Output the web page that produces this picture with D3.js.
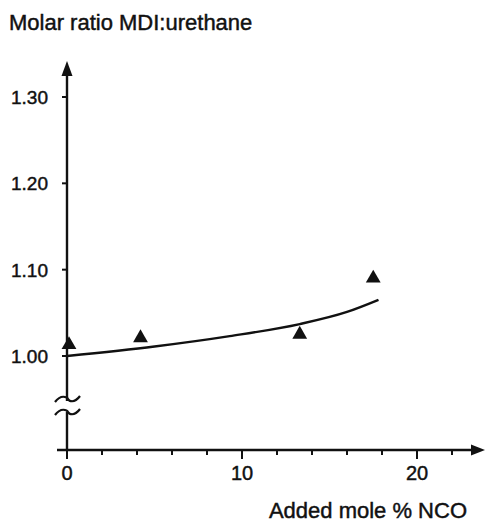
<!DOCTYPE html>
<html>
<head>
<meta charset="utf-8">
<script src="https://cdn.jsdelivr.net/npm/d3@7/dist/d3.min.js"></script>
<style>
  html, body { margin: 0; padding: 0; background: #fff; }
  svg { display: block; }
  text { font-family: "Liberation Sans", Arial, Helvetica, sans-serif; fill: #111; stroke: #111; stroke-width: 0.45px; }
</style>
</head>
<body>
<svg id="chart" width="485" height="522"></svg>
<script>
// Measured points: added mole % NCO vs. molar ratio MDI:urethane
const pointX = [0, 4.2, 13.3, 17.5];
const pointY = [1.013, 1.021, 1.025, 1.090];

// Fitted trend curve
const curveX = [0, 5, 9.3, 13.3, 16, 17.8];
const curveY = [1.000, 1.011, 1.023, 1.037, 1.051, 1.065];

const xMajorTicks = [0, 10, 20];
const xMinorTicks = [2, 4, 6, 8, 12, 14, 16, 18, 22];
const yTicks = [1.00, 1.10, 1.20, 1.30];

const yTitle = "Molar ratio MDI:urethane";
const xTitle = "Added mole % NCO";

const svg = d3.select("#chart");
const ink = "#111";

const x = d3.scaleLinear().domain([0, 20]).range([67, 417]);
const y = d3.scaleLinear().domain([1.00, 1.30]).range([356, 97]);
const baseY = 450;

// x axis line with arrow
svg.append("line")
  .attr("x1", 57).attr("x2", 474)
  .attr("y1", baseY).attr("y2", baseY)
  .attr("stroke", ink).attr("stroke-width", 2.4);
svg.append("path")
  .attr("d", `M485,${baseY} L471,${baseY - 5.5} L471,${baseY + 5.5} Z`)
  .attr("fill", ink);

// x ticks
const xAxis = svg.append("g").attr("transform", `translate(0,${baseY})`);
xAxis.selectAll("line.minor").data(xMinorTicks).join("line")
  .attr("class", "minor")
  .attr("x1", d => x(d)).attr("x2", d => x(d))
  .attr("y1", 0).attr("y2", 5)
  .attr("stroke", ink).attr("stroke-width", 2);
xAxis.selectAll("line.major").data(xMajorTicks).join("line")
  .attr("class", "major")
  .attr("x1", d => x(d)).attr("x2", d => x(d))
  .attr("y1", 0).attr("y2", 9)
  .attr("stroke", ink).attr("stroke-width", 2);
xAxis.selectAll("text").data(xMajorTicks).join("text")
  .attr("x", d => x(d)).attr("y", 30)
  .attr("text-anchor", "middle")
  .attr("font-size", 20)
  .text(d => d);

// y axis line with arrow and break
const axX = x(0);
svg.append("line")
  .attr("x1", axX).attr("x2", axX)
  .attr("y1", baseY).attr("y2", 74)
  .attr("stroke", ink).attr("stroke-width", 2.4);
svg.append("path")
  .attr("d", `M${axX},61 L${axX - 5.5},76 L${axX + 5.5},76 Z`)
  .attr("fill", ink);

// break marks on y axis
svg.append("rect")
  .attr("x", axX - 3).attr("y", 401).attr("width", 6).attr("height", 11)
  .attr("fill", "#fff");
[399, 412].forEach(cy => {
  svg.append("path")
    .attr("d", `M${axX - 12},${cy + 3} C${axX - 6},${cy - 5} ${axX},${cy - 2} ${axX + 1},${cy} C${axX + 2},${cy + 2} ${axX + 7},${cy + 5} ${axX + 13},${cy - 3}`)
    .attr("fill", "none").attr("stroke", ink).attr("stroke-width", 2.2);
});

// y ticks
const yAxis = svg.append("g");
yAxis.selectAll("line").data(yTicks).join("line")
  .attr("x1", axX - 5).attr("x2", axX)
  .attr("y1", d => y(d)).attr("y2", d => y(d))
  .attr("stroke", ink).attr("stroke-width", 2);
yAxis.selectAll("text").data(yTicks).join("text")
  .attr("x", 48).attr("y", d => y(d) + 7)
  .attr("text-anchor", "end")
  .attr("font-size", 19)
  .text(d => d.toFixed(2));

// axis titles
svg.append("text")
  .attr("x", 9).attr("y", 30)
  .attr("font-size", 22)
  .text(yTitle);
svg.append("text")
  .attr("x", 467).attr("y", 518)
  .attr("text-anchor", "end")
  .attr("font-size", 22)
  .text(xTitle);

// trend curve
const line = d3.line()
  .x(d => x(d[0])).y(d => y(d[1]))
  .curve(d3.curveMonotoneX);
svg.append("path")
  .datum(curveX.map((v, i) => [v, curveY[i]]))
  .attr("d", line)
  .attr("fill", "none").attr("stroke", ink).attr("stroke-width", 2.4);

// triangle markers
const tri = d3.symbol().type(d3.symbolTriangle).size(95);
svg.selectAll("path.pt").data(pointX.map((v, i) => [v, pointY[i]])).join("path")
  .attr("class", "pt")
  .attr("transform", d => `translate(${x(d[0]) + (d[0] === 0 ? 2 : 0)},${y(d[1])})`)
  .attr("d", tri)
  .attr("fill", ink);
</script>
</body>
</html>
